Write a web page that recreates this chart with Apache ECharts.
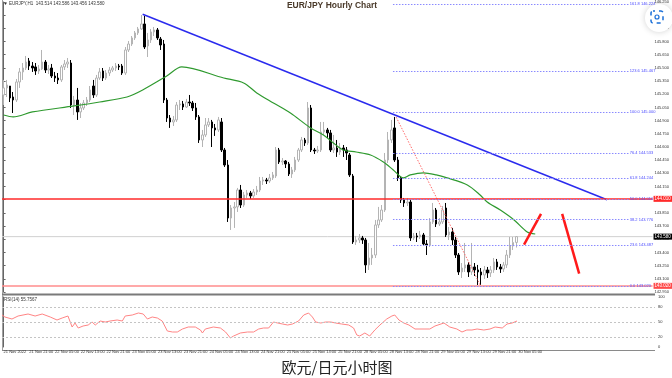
<!DOCTYPE html>
<html><head><meta charset="utf-8">
<script src="https://cdn.jsdelivr.net/npm/echarts@6.0.0/dist/echarts.min.js"></script>
<style>html,body{margin:0;padding:0;background:#fff}#c{width:672px;height:378px}</style>
</head><body><div id="c"></div>
<script>
const tickLabels = ['21 Nov 2022','21 Nov 21:00','22 Nov 05:00','22 Nov 13:00','22 Nov 21:00','23 Nov 05:00','23 Nov 13:00','23 Nov 21:00','24 Nov 05:00','24 Nov 13:00','24 Nov 21:00','25 Nov 05:00','25 Nov 13:00','25 Nov 21:00','28 Nov 05:00','28 Nov 13:00','28 Nov 21:00','29 Nov 05:00','29 Nov 13:00','29 Nov 21:00','30 Nov 05:00'];
const slotCount = 203;

const opens = [145.192,145.272,145.294,145.169,145.135,145.340,145.454,145.499,145.579,145.522,
145.511,145.465,145.488,145.567,145.476,145.499,145.408,145.385,145.363,145.511,
145.545,145.556,145.078,145.135,144.999,145.044,145.101,145.135,145.294,145.192,
145.385,145.465,145.385,145.442,145.476,145.499,145.522,145.522,145.442,145.704,
145.772,145.841,145.898,145.943,146.000,145.750,145.818,145.909,145.932,145.829,
145.772,145.135,144.930,144.885,144.908,145.078,145.090,145.055,145.112,145.101,
145.044,144.942,144.680,144.737,144.851,144.885,144.817,144.794,144.885,144.566,
144.395,143.792,143.906,143.918,144.111,143.940,144.054,144.077,144.043,144.088,
144.111,144.213,144.225,144.213,144.248,144.270,144.566,144.430,144.441,144.407,
144.293,144.339,144.452,144.566,144.680,144.646,145.044,144.566,144.555,144.566,
144.771,144.794,144.760,144.566,144.589,144.543,144.589,144.566,144.509,144.270,
143.519,143.542,143.565,143.542,143.258,143.337,143.371,143.713,143.770,143.883,
144.452,144.680,144.817,144.452,144.248,143.997,143.963,143.974,143.565,143.588,
143.576,143.599,143.497,143.485,143.747,143.883,143.724,143.747,143.906,143.599,
143.633,143.542,143.371,143.178,143.223,143.258,143.178,143.235,143.201,143.178,
143.144,143.201,143.167,143.201,143.292,143.235,143.212,143.258,143.371,143.474,
143.514];
const closes = [145.272,145.306,145.158,145.135,145.340,145.454,145.499,145.567,145.522,145.499,
145.465,145.488,145.567,145.476,145.488,145.408,145.385,145.363,145.511,145.545,
145.567,145.078,145.135,144.999,145.044,145.101,145.135,145.249,145.192,145.385,
145.454,145.385,145.442,145.476,145.499,145.522,145.511,145.442,145.704,145.772,
145.841,145.898,145.943,146.000,145.738,145.818,145.909,145.932,145.841,145.761,
145.135,144.930,144.885,144.908,145.078,145.090,145.055,145.112,145.101,145.044,
144.942,144.680,144.737,144.851,144.885,144.817,144.794,144.908,144.566,144.395,
143.792,143.906,143.918,144.111,143.940,144.054,144.077,144.043,144.088,144.111,
144.213,144.225,144.213,144.248,144.282,144.566,144.430,144.441,144.407,144.293,
144.339,144.452,144.566,144.680,144.646,145.044,144.566,144.555,144.566,144.771,
144.794,144.760,144.566,144.589,144.543,144.589,144.566,144.532,144.282,143.519,
143.542,143.565,143.542,143.258,143.337,143.371,143.713,143.770,143.883,144.452,
144.680,144.794,144.452,144.248,143.997,143.963,143.974,143.565,143.588,143.576,
143.599,143.497,143.485,143.747,143.883,143.724,143.747,143.883,143.599,143.633,
143.542,143.371,143.178,143.223,143.258,143.178,143.235,143.201,143.178,143.144,
143.201,143.167,143.201,143.292,143.235,143.212,143.258,143.371,143.474,143.514,
143.580];
const lows = [145.078,145.169,145.112,144.987,145.112,145.272,145.363,145.476,145.476,145.454,
145.420,145.431,145.476,145.442,145.431,145.385,145.340,145.317,145.340,145.476,
145.499,145.044,144.964,144.908,144.930,145.021,145.067,145.112,145.158,145.169,
145.363,145.351,145.363,145.408,145.454,145.465,145.476,145.420,145.420,145.681,
145.750,145.818,145.875,145.932,145.715,145.624,145.784,145.863,145.818,145.704,
145.101,144.885,144.817,144.839,144.885,145.021,145.021,145.044,145.067,145.010,
144.908,144.646,144.600,144.714,144.828,144.600,144.726,144.771,144.543,144.373,
143.747,143.656,143.679,143.861,143.906,143.918,144.020,144.009,144.020,144.054,
144.088,144.168,144.179,144.191,144.225,144.248,144.407,144.395,144.361,144.270,
144.248,144.316,144.430,144.543,144.612,144.623,144.543,144.521,144.532,144.543,
144.737,144.703,144.543,144.532,144.487,144.509,144.487,144.452,144.259,143.497,
143.485,143.508,143.497,143.167,143.201,143.258,143.337,143.679,143.747,143.861,
144.418,144.646,144.430,144.213,143.963,143.918,143.929,143.531,143.542,143.519,
143.553,143.474,143.371,143.462,143.724,143.690,143.701,143.724,143.576,143.542,
143.485,143.337,143.144,143.110,143.178,143.121,143.144,143.132,143.030,143.030,
143.098,143.110,143.121,143.167,143.201,143.167,143.178,143.223,143.337,143.428,
143.456];
const highs = [145.363,145.363,145.294,145.226,145.374,145.499,145.556,145.636,145.613,145.567,
145.556,145.533,145.704,145.590,145.533,145.545,145.454,145.442,145.533,145.590,
145.613,145.590,145.181,145.272,145.101,145.135,145.169,145.294,145.363,145.420,
145.499,145.499,145.476,145.511,145.522,145.556,145.545,145.545,145.738,145.806,
145.863,145.920,145.966,146.102,146.091,145.898,145.943,145.966,145.954,145.852,
145.818,145.158,144.964,144.953,145.112,145.135,145.124,145.147,145.192,145.124,
145.101,144.964,144.794,144.930,144.930,144.908,144.862,144.942,144.930,144.589,
144.452,143.940,143.974,144.134,144.168,144.088,144.111,144.100,144.122,144.157,
144.259,144.259,144.248,144.293,144.316,144.600,144.589,144.475,144.452,144.430,
144.373,144.487,144.589,144.714,144.703,145.112,145.078,144.589,144.612,144.885,
144.885,144.817,144.794,144.737,144.680,144.646,144.623,144.600,144.532,144.293,
143.588,143.610,143.588,143.565,143.508,143.451,143.770,143.918,143.940,144.532,
144.771,144.908,144.942,144.487,144.270,144.020,144.020,143.997,143.622,143.622,
143.645,143.622,143.542,143.792,143.963,143.906,143.792,143.929,143.963,143.690,
143.679,143.576,143.394,143.280,143.508,143.292,143.508,143.280,143.258,143.223,
143.246,143.235,143.246,143.337,143.326,143.269,143.292,143.428,143.576,143.576,
143.586];

const maPoints = [[0,144.964],[3,144.942],[9,144.999],[22,145.067],[30,145.112],[38.5,145.169],[43.4,145.249],[50.9,145.408],[55.6,145.511],[68.7,145.385],[74.9,145.329],[79,145.215],[84.2,145.101],[89.5,144.987],[95.8,144.817],[99.8,144.737],[102.9,144.646],[106,144.566],[110,144.543],[114.5,144.509],[118.5,144.430],[121.6,144.339],[124.7,144.248],[126.9,144.282],[131,144.305],[135,144.282],[138.4,144.248],[144.7,144.168],[148.7,144.054],[150.9,143.974],[155,143.883],[159.3,143.770],[163.4,143.633],[165.9,143.610]];

const rsiPoints = [[-0.5,64],[0.4,60],[2.6,56],[4.5,62],[7.6,66],[9.8,62],[12,66],[14.5,60],[16.6,54],[18.2,58],[20,62],[21.3,40],[22.2,48],[23.2,38],[24.7,42],[26.3,44],[27.5,50],[28.5,44],[30,52],[31.6,50],[33.1,52],[35.3,54],[36.9,52],[37.8,62],[40,64],[41.9,68],[43.4,66],[44.7,56],[46.2,60],[47.8,58],[49.3,52],[50.9,32],[52.5,30],[54,30],[55.6,36],[57.4,40],[59.6,40],[61.2,34],[61.8,28],[62.7,36],[65.2,40],[67.4,38],[69,30],[70.5,18],[71.5,22],[73.6,28],[75.8,30],[77.7,30],[79.3,36],[80.8,38],[82.4,38],[83.9,50],[85.2,48],[86.7,46],[88.3,44],[89.8,46],[91.7,52],[93.3,64],[94.8,68],[96,60],[97,50],[98.6,48],[100.1,50],[101.7,50],[103.2,48],[105.1,46],[107.3,44],[108.8,38],[109.8,24],[110.7,22],[112.3,28],[113.8,22],[115.4,34],[117,44],[119.1,56],[120.7,62],[121.6,64],[122.9,54],[124.4,48],[126,44],[127.9,36],[130.7,36],[132.5,36],[134.1,42],[136.9,48],[138.7,40],[140.9,36],[142.5,30],[144,34],[145.6,34],[147.2,36],[149.3,34],[151.2,36],[152.8,40],[155,38],[156.5,46],[158.1,48],[159.6,52]];

const trendLine = [[43.4,146.11],[188.3,144.00]];
const fibDiagonal = [[122.5,144.94],[148.7,143.03]];
const arrowUp = [[162.4,143.49],[167.7,143.84]];
const arrowDown = [[174.3,143.84],[179.6,143.16]];
const fibLevels = ['0.0','23.6','38.2','50.0','61.8','76.4','100.0','123.6','161.8'];
const fibPrices = [143.020,143.487,143.776,144.010,144.244,144.533,145.000,145.467,146.224];
const fibStartEnd = [121.5, 195.4];
const resistancePrice = 144.010;
const supportPrice = 143.020;
const lastPrice = 143.580;
const rsiLevels = [80, 50, 20];
const rsiTickLabels = [0, 20, 50, 80, 100];
const headerText = 'EURJPY,H1  143.514 143.586 143.456 143.580';
const rsiText = 'RSI(14) 55.7567';
const titleText = 'EUR/JPY Hourly Chart';
const captionText = '欧元/日元小时图';

const cats = Array.from({length: slotCount}, (_, i) => (i % 8 === 0 && i / 8 < tickLabels.length) ? tickLabels[i / 8] : '');
const candleData = opens.map((o, i) => [o, closes[i], lows[i], highs[i]]);

const chart = echarts.init(document.getElementById('c'), null, {renderer: 'canvas'});
const F = 'Liberation Sans, Arial, sans-serif';
const hLine = (price, color, width, labelBg) => ({
  yAxis: price,
  lineStyle: {color: color, width: width, type: 'solid'},
  label: labelBg ? {show: true, position: 'end', distance: 1, formatter: price.toFixed(3), backgroundColor: labelBg, color: '#fff', fontSize: 4.5, fontFamily: F, padding: [1, 2, 0, 1]} : {show: false}
});

chart.setOption({
  animation: false,
  backgroundColor: '#ffffff',
  grid: [
    {left: 2, right: 17, top: 2, height: 290},
    {left: 2, right: 17, top: 297, height: 50}
  ],
  xAxis: [
    {type: 'category', gridIndex: 0, data: cats, boundaryGap: true, axisLine: {show: false}, axisTick: {show: false}, axisLabel: {show: false}, splitLine: {show: false}},
    {type: 'value', gridIndex: 0, min: -0.5, max: slotCount - 0.5, show: false},
    {type: 'category', gridIndex: 1, data: cats, boundaryGap: true, axisLine: {show: false}, axisTick: {show: false}, splitLine: {show: false},
      axisLabel: {interval: 0, fontSize: 4, color: '#333', align: 'left', margin: 3, fontFamily: F}},
    {type: 'value', gridIndex: 1, min: -0.5, max: slotCount - 0.5, show: false}
  ],
  yAxis: [
    {type: 'value', gridIndex: 0, position: 'right', min: 142.95, max: 146.25, interval: 0.15, scale: true,
      axisLine: {show: true, lineStyle: {color: '#666', width: 1}}, axisTick: {show: true, length: 2, lineStyle: {color: '#666'}},
      splitLine: {show: false}, axisLabel: {fontSize: 4, color: '#333', margin: 2, fontFamily: F, formatter: v => v.toFixed(3)}},
    {type: 'value', gridIndex: 1, position: 'right', min: 0, max: 100, interval: 10,
      axisLine: {show: true, lineStyle: {color: '#666', width: 1}}, axisTick: {show: false}, splitLine: {show: false},
      axisLabel: {fontSize: 4, color: '#333', margin: 3, fontFamily: F, formatter: v => rsiTickLabels.includes(v) ? String(v) : ''}}
  ],
  series: [
    {type: 'line', xAxisIndex: 1, yAxisIndex: 0, data: [[-0.5, lastPrice], [slotCount - 0.5, lastPrice]], symbol: 'none', silent: true,
      lineStyle: {color: '#d0d0d0', width: 1}, z: 1,
      markLine: {symbol: 'none', silent: true, animation: false, data: [
        hLine(resistancePrice, '#ff2a2a', 1.5, '#ff2a2a'),
        hLine(supportPrice, '#ff8c8c', 1.5, '#ff4a4a'),
        {yAxis: lastPrice, lineStyle: {color: 'rgba(0,0,0,0)', width: 0}, label: {show: true, position: 'end', distance: 1, formatter: lastPrice.toFixed(3), backgroundColor: '#000', color: '#fff', fontSize: 4.5, fontFamily: F, padding: [1, 2, 0, 1]}}
      ]}},
    {type: 'line', xAxisIndex: 1, yAxisIndex: 0, data: [], symbol: 'none', silent: true, z: 1,
      markLine: {symbol: 'none', silent: true, animation: false,
        lineStyle: {color: '#8a8aff', width: 1, type: [1.5, 1.5]},
        label: {show: true, position: 'end', distance: 0, color: '#4a4aff', fontSize: 4, fontFamily: F, formatter: '{b}'},
        data: fibPrices.map((p, k) => [{name: fibLevels[k] + ' ' + p.toFixed(3), coord: [fibStartEnd[0], p]}, {coord: [fibStartEnd[1], p]}])
      }},
    {type: 'candlestick', xAxisIndex: 0, yAxisIndex: 0, data: candleData, barWidth: 2, z: 3,
      itemStyle: {color: '#ffffff', borderColor: '#b4b4b4', color0: '#000000', borderColor0: '#000000', borderWidth: 1}},
    {type: 'line', xAxisIndex: 1, yAxisIndex: 0, data: maPoints, symbol: 'none', smooth: 0.3, silent: true, z: 4,
      lineStyle: {color: '#2f9a2f', width: 1.2}},
    {type: 'line', xAxisIndex: 1, yAxisIndex: 0, data: trendLine, symbol: 'none', silent: true, z: 4,
      lineStyle: {color: '#2b2bee', width: 1.5}},
    {type: 'line', xAxisIndex: 1, yAxisIndex: 0, data: fibDiagonal, symbol: 'none', silent: true, z: 4,
      lineStyle: {color: '#ff6a6a', width: 1, type: [1.5, 1.5]}},
    {type: 'line', xAxisIndex: 1, yAxisIndex: 0, data: arrowUp, symbol: 'none', silent: true, z: 4,
      lineStyle: {color: '#ff1a1a', width: 2.5}},
    {type: 'line', xAxisIndex: 1, yAxisIndex: 0, data: arrowDown, symbol: 'none', silent: true, z: 4,
      lineStyle: {color: '#ff1a1a', width: 2.5}},
    {type: 'line', xAxisIndex: 3, yAxisIndex: 1, data: rsiPoints, symbol: 'none', silent: true, z: 4,
      lineStyle: {color: '#ff8585', width: 1},
      markLine: {symbol: 'none', silent: true, animation: false, label: {show: false},
        lineStyle: {color: '#c4c4c4', width: 1, type: [2, 2]},
        data: rsiLevels.map(v => ({yAxis: v}))}}
  ],
  graphic: [
    {type: 'line', shape: {x1: 2.5, y1: 0, x2: 2.5, y2: 294}, style: {stroke: '#a0a0a0', lineWidth: 1}, silent: true},
    {type: 'line', shape: {x1: 2, y1: 294.5, x2: 655, y2: 294.5}, style: {stroke: '#7a7a7a', lineWidth: 2}, silent: true},
    {type: 'line', shape: {x1: 2.5, y1: 295, x2: 2.5, y2: 350}, style: {stroke: '#a0a0a0', lineWidth: 1}, silent: true},
    {type: 'line', shape: {x1: 2, y1: 350.5, x2: 655, y2: 350.5}, style: {stroke: '#8a8a8a', lineWidth: 1}, silent: true},
    {type: 'polygon', shape: {points: [[4, 2.5], [7, 2.5], [5.5, 5]]}, style: {fill: '#333'}, silent: true},
    {type: 'text', x: 9, y: 1.5, style: {text: headerText, fontSize: 4.5, fill: '#333', fontFamily: F}, silent: true},
    {type: 'text', x: 4, y: 297, style: {text: rsiText, fontSize: 4.5, fill: '#333', fontFamily: F}, silent: true},
    {type: 'text', x: 332, y: 6, style: {text: titleText, fontSize: 8.5, fontWeight: 'bold', fill: '#4a3a2a', fontFamily: F, align: 'center', verticalAlign: 'middle'}, silent: true},
    {type: 'text', x: 337, y: 367, style: {text: captionText, fontSize: 15, fill: '#222', fontFamily: 'Noto Sans CJK SC, sans-serif', align: 'center', verticalAlign: 'middle'}, silent: true},
    {type: 'circle', shape: {cx: 659, cy: 18, r: 14}, style: {fill: '#ffffff', shadowBlur: 6, shadowColor: 'rgba(0,0,0,0.18)'}, silent: true, z: 100},
    {type: 'rect', shape: {x: 651, y: 11, width: 12, height: 12, r: 2}, style: {fill: 'none', stroke: '#1a6fd8', lineWidth: 1.5, lineDash: [4, 4], lineDashOffset: 2}, silent: true, z: 101},
    {type: 'circle', shape: {cx: 657, cy: 17, r: 2}, style: {fill: 'none', stroke: '#1a6fd8', lineWidth: 1.2}, silent: true, z: 101}
  ]
});
</script>
</body></html>
